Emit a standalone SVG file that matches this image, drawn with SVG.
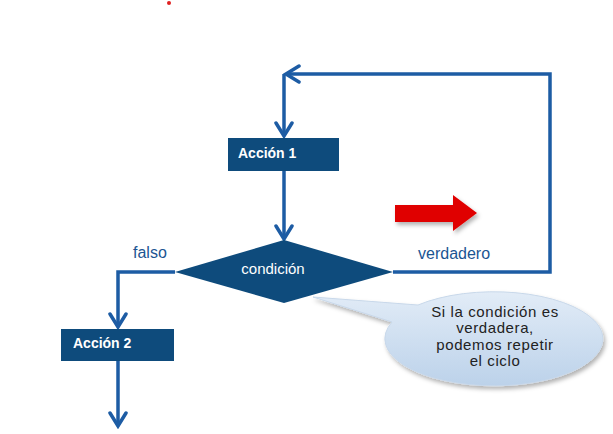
<svg xmlns="http://www.w3.org/2000/svg" width="613" height="434" viewBox="0 0 613 434">
  <style>
    .box { fill: #0e4b7c; }
    .conn { fill: none; stroke: #1d5ca4; stroke-width: 3.5; stroke-linejoin: miter; }
    .lbl { font-family: "Liberation Sans", Arial, sans-serif; font-size: 16px; fill: #1b5592; }
    .ntxt { font-family: "Liberation Sans", Arial, sans-serif; fill: #ffffff; }
    .call { font-family: "Liberation Sans", Arial, sans-serif; font-size: 15px; letter-spacing: 0.6px; fill: #222222; text-anchor: middle; }
  </style>
  <defs>
    <marker id="chev" viewBox="-16 -11 19 22" markerWidth="19" markerHeight="22" refX="0" refY="0" orient="auto" markerUnits="userSpaceOnUse">
      <path d="M-13,-8 L0,0 L-13,8" fill="none" stroke="#1d5ca4" stroke-width="3.5" stroke-linecap="round" stroke-linejoin="miter"/>
    </marker>
    <linearGradient id="bub" x1="0" y1="0" x2="0" y2="1">
      <stop offset="0" stop-color="#e2ecf7"/>
      <stop offset="1" stop-color="#bcd2ea"/>
    </linearGradient>
    <filter id="sh" x="-20%" y="-20%" width="140%" height="150%">
      <feDropShadow dx="2" dy="3" stdDeviation="2" flood-color="#000" flood-opacity="0.3"/>
    </filter>
  </defs>
  <rect width="613" height="434" fill="#ffffff"/>
  <circle cx="169" cy="3" r="2" fill="#e02020"/>

  <g id="connectors">
    <path class="conn" d="M393,272 H550 V74 H286" marker-end="url(#chev)"/>
    <path class="conn" d="M284,74 V136" marker-end="url(#chev)"/>
    <path class="conn" d="M284,171 V239" marker-end="url(#chev)"/>
    <path class="conn" d="M175,272 H118 V327" marker-end="url(#chev)"/>
    <path class="conn" d="M118,361 V426" marker-end="url(#chev)"/>
  </g>

  <g id="accion1">
    <rect class="box" x="228" y="138" width="111" height="33"/>
    <text class="ntxt" x="238" y="158" font-size="14" font-weight="bold">Acción 1</text>
  </g>

  <g id="condicion">
    <polygon class="box" points="284,240 393,272 284,303 175,272"/>
    <text class="ntxt" x="273" y="274" font-size="15" text-anchor="middle">condición</text>
  </g>

  <g id="accion2">
    <rect class="box" x="61" y="329" width="113" height="32"/>
    <text class="ntxt" x="73" y="348" font-size="14" font-weight="bold">Acción 2</text>
  </g>

  <g id="labels">
    <text class="lbl" x="133" y="258">falso</text>
    <text class="lbl" x="418" y="259" font-size="16.5">verdadero</text>
  </g>

  <g id="red-arrow">
    <polygon points="395,205 453,205 453,195 477,213 453,231 453,222 395,222" fill="#e00000" filter="url(#sh)"/>
  </g>

  <g id="callout">
    <path d="M313,297 L418,305 A109,47 0 1,1 392,322 Z" fill="url(#bub)" stroke="#c8d8ea" stroke-width="1" filter="url(#sh)"/>
    <text class="call" x="495" y="317">Si la condición es</text>
    <text class="call" x="495" y="333">verdadera,</text>
    <text class="call" x="495" y="350">podemos repetir</text>
    <text class="call" x="495" y="366">el ciclo</text>
  </g>
</svg>
